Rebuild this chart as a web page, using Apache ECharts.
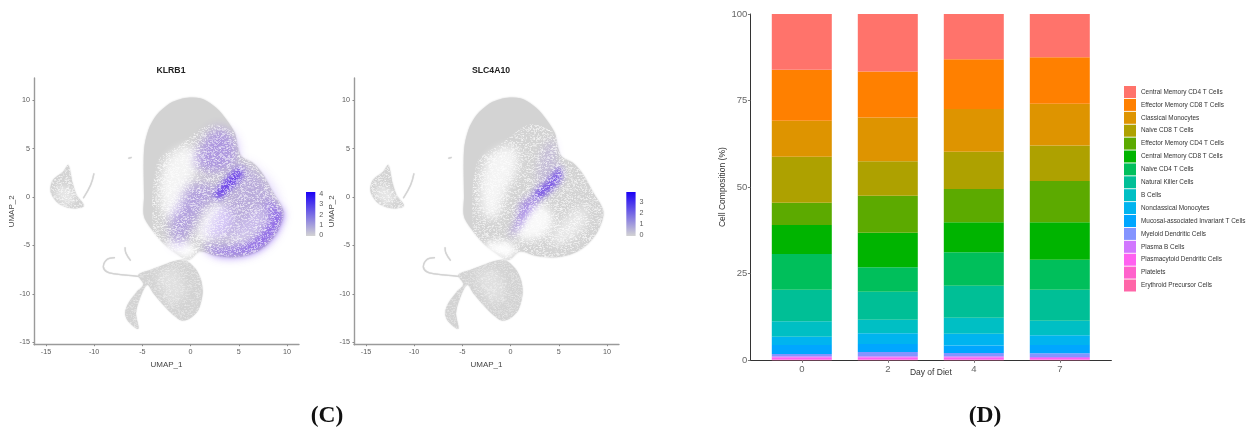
<!DOCTYPE html>
<html><head><meta charset="utf-8">
<style>html,body{margin:0;padding:0;background:#fff}#c{width:1250px;height:432px}</style>
<script src="https://cdn.jsdelivr.net/npm/echarts@6/dist/echarts.min.js"></script>
</head><body><div id="c"></div>
<script>
// ---- Stacked composition chart data
const days = ['0','2','4','7'];
const cellTypes = ['Central Memory CD4 T Cells','Effector Memory CD8 T Cells','Classical Monocytes','Naive CD8 T Cells','Effector Memory CD4 T Cells','Central Memory CD8 T Cells','Naive CD4 T Cells','Natural Killer Cells','B Cells','Nonclassical Monocytes','Mucosal-associated Invariant T Cells','Myeloid Dendritic Cells','Plasma B Cells','Plasmacytoid Dendritic Cells','Platelets','Erythroid Precursor Cells'];
const cellColors = ['#FF736B','#FF8000','#DE9400','#AEA100','#5CAA00','#00B400','#00BF5B','#00BF96','#00BFC4','#00B4EF','#00A6FF','#8494FF','#D177FF','#FF61F0','#FF61CC','#FF66A8'];
const centralMemoryCD4 = [16.1,16.6,13.1,12.5];
const effectorMemoryCD8 = [14.7,13.3,14.3,13.4];
const classicalMono = [10.4,12.6,12.4,12.1];
const naiveCD8 = [13.3,10.0,10.7,10.2];
const effectorMemoryCD4 = [6.4,10.7,9.6,11.9];
const centralMemoryCD8 = [8.4,9.9,8.7,10.9];
const naiveCD4 = [10.3,7.1,9.7,8.6];
const naturalKiller = [9.1,8.1,9.2,9.0];
const bCells = [4.5,3.9,4.6,4.2];
const nonclassicalMono = [2.4,3.1,3.4,2.8];
const mait = [2.6,2.3,2.2,2.4];
const myeloidDC = [0.6,1.2,0.9,1.05];
const plasmaB = [0.3,0.3,0.3,0.25];
const plasmacytoidDC = [0.65,0.65,0.65,0.5];
const platelets = [0.15,0.15,0.15,0.12];
const erythroid = [0.1,0.1,0.1,0.08];
const composition = [centralMemoryCD4,effectorMemoryCD8,classicalMono,naiveCD8,effectorMemoryCD4,centralMemoryCD8,naiveCD4,naturalKiller,bCells,nonclassicalMono,mait,myeloidDC,plasmaB,plasmacytoidDC,platelets,erythroid];
const umapTicks = [-15,-10,-5,0,5,10];
const barTicks = [0,25,50,75,100];

// ---- UMAP outlines (UMAP_1, UMAP_2)
const mainBlob = [[-0.06,10.28],[1.32,10.1],[2.7,9.17],[3.74,7.97],[4.6,6.59],[4.85,5.39],[5.3,4.18],[6.51,3.49],[7.55,2.29],[8.41,0.74],[9.62,-1.5],[9.1,-3.4],[7.89,-4.95],[6.51,-5.8],[4.78,-6.22],[2.7,-6.08],[0.98,-5.63],[-0.24,-6.5],[-1.8,-5.63],[-2.83,-4.77],[-3.87,-3.56],[-4.83,-2.01],[-4.83,0.05],[-4.83,4.87],[-4.38,6.94],[-3.52,8.48],[-2.14,9.69],[-1.1,10.1]];
const lowerBlob = [[-0.58,-6.49],[0.46,-7.35],[1.08,-8.56],[1.25,-9.94],[0.8,-11.66],[-0.06,-12.52],[-0.93,-12.76],[-1.79,-12.18],[-2.83,-11.14],[-3.87,-9.93],[-4.5,-9.07],[-5.25,-10.46],[-5.66,-12.0],[-5.42,-13.62],[-6.46,-12.86],[-6.8,-12.0],[-6.46,-10.97],[-5.6,-9.8],[-4.9,-9.0],[-5.42,-8.04],[-4.2,-7.53],[-2.83,-7.01],[-1.62,-6.6]];
const island = [[-12.68,3.32],[-12.23,1.42],[-11.82,0.22],[-11.06,-0.92],[-12.34,-1.16],[-13.72,-0.64],[-14.52,0.56],[-14.31,1.7],[-13.2,2.63]];
const wingLine = [[-10.02,2.46],[-10.37,1.25],[-11.13,-0.12]];
const arcLine = [[-7.84,-6.25],[-8.64,-6.43],[-9.05,-7.18],[-8.71,-7.7],[-7.84,-7.94],[-6.46,-8.08],[-5.25,-8.22]];
const hookLine = [[-6.8,-5.19],[-6.7,-5.81],[-6.22,-6.56]];
const specLine = [[-6.46,4.0],[-6.11,4.11]];
const grainZone = [[-3.5,3.5],[-1,5.5],[2,7.5],[4.6,6.6],[4.85,5.39],[5.3,4.18],[6.51,3.49],[7.55,2.29],[8.41,0.74],[9.62,-1.5],[9.1,-3.4],[7.89,-4.95],[6.51,-5.8],[4.78,-6.22],[2.7,-6.08],[0.98,-5.63],[-0.24,-6.5],[-1.8,-5.63],[-2.83,-4.77],[-3.87,-3.56]];
const paleA = [[-2.31,4.18],[-0.75,5.21],[0.63,4.87],[0.63,2.8],[-0.41,0.74],[-1.44,-2.02],[-2.66,-2.02],[-3.17,0.74],[-2.83,2.8]];
const paleB = [[1.67,-1.33],[3.05,-0.65],[4.43,-2.02],[3.74,-3.74],[2.0,-4.43],[0.63,-4.08]];
const paleC = [[-2.83,-4.94],[-0.41,-4.6],[0.63,-5.46],[-0.41,-6.33],[-1.79,-5.8]];
const paleD = [[5.13,-2.7],[7.55,-0.98],[7.89,-2.7],[6.16,-4.43],[4.09,-4.77]];
const paleE = [[-14,0.6],[-13,1.2],[-12,-0.2],[-13,-0.8]];
const paleF = [[-3.5,-8],[-1.5,-7.5],[-0.5,-10],[-2,-11]];
const klrbUpper = [[0.98,5.21],[2.7,7.11],[4.26,6.42],[4.85,4.87],[4.43,3.15],[2.36,2.46],[0.63,3.32]];
const klrbCore = [[2.36,0.05],[3.22,1.43],[4.43,2.63],[5.3,3.08],[5.19,1.94],[4.09,0.74],[3.05,-0.19]];
const klrbMiddle = [[-2.14,-2.71],[-1.1,-0.64],[-0.06,1.08],[2.36,1.43],[2.36,-0.3],[0.98,-1.67],[-0.06,-3.74],[-1.44,-5.11]];
const klrbCrescent = [[9.62,-1.5],[9.1,-3.4],[7.89,-4.95],[6.51,-5.8],[4.78,-6.22],[2.7,-6.08],[1.32,-5.11],[3.74,-5.11],[5.99,-4.6],[7.55,-3.4],[8.24,-2.02],[7.89,-0.3]];
const klrbRight = [[5.3,3.49],[7.55,2.11],[8.93,-0.3],[7.89,-3.4],[4.43,-4.43],[1.67,-4.08],[3.05,-0.99],[4.43,0.74]];
const klrbEdge = [[9.45,-1.68],[8.76,-3.57],[7.2,-5.12],[5.13,-5.8],[6.51,-4.77],[8.24,-3.05],[8.76,-1.68]];
const slcCore = [[2.36,0.39],[3.74,1.6],[5.12,3.15],[5.3,1.94],[4.09,0.57],[2.7,-0.3]];
const slcTail = [[0.63,-2.36],[0.98,-0.81],[2.01,0.05],[2.88,-0.3],[1.67,-2.02],[0.98,-3.05],[-0.06,-4.08]];
const slcUpper = [[3.39,4.87],[4.43,5.9],[4.78,3.49],[3.74,1.77],[2.7,1.43]];

const GRAY='#D3D3D3', PUR='#7B48F0';
const baseLayers = [{p:mainBlob,f:GRAY,o:1,b:2},{p:lowerBlob,f:GRAY,o:1,b:1.5},{p:island,f:GRAY,o:1,b:1.5}];
const paleLayers = [{p:paleA,f:'#fff',o:.75,b:10},{p:paleB,f:'#fff',o:.85,b:9},{p:paleC,f:'#fff',o:.95,b:7},{p:paleD,f:'#fff',o:.5,b:9},{p:paleE,f:'#fff',o:.45,b:6},{p:paleF,f:'#fff',o:.3,b:8}];
const klrbLayers = paleLayers.concat([
  {p:klrbRight,f:PUR,o:.28,b:12},{p:klrbMiddle,f:PUR,o:.36,b:11},{p:klrbUpper,f:PUR,o:.42,b:11},
  {p:klrbCrescent,f:PUR,o:.62,b:9},{p:klrbEdge,f:PUR,o:.35,b:6},{p:klrbCore,f:'#5A28EE',o:.85,b:6}
]);
const slcLayers = paleLayers.concat([
  {p:slcUpper,f:PUR,o:.16,b:9},{p:slcTail,f:PUR,o:.5,b:7},{p:slcCore,f:'#5A28EE',o:.75,b:6}
]);
const strokes = [wingLine,arcLine,hookLine,specLine];

// Fine grain so the dense clouds read as blurred dots rather than flat fills (a fill style only).
function grainTile(alpha){
  const n=131, c=document.createElement('canvas'); c.width=c.height=n;
  const g=c.getContext('2d'); let s=12345;
  for(let y=0;y<n;y++)for(let x=0;x<n;x++){
    s=(s*1103515245+12345)&0x7fffffff;
    const t=(s>>>16)%100;
    if(t<45){g.fillStyle='rgba(255,255,255,'+(alpha*(t%5+1)/5)+')';g.fillRect(x,y,1+(t%3===0?1:0),1);}
  }
  return c;
}
const tile = grainTile(0.55), tileSoft = grainTile(0.3);
const OFF = 3000;

function blobSeries(layers, idx){
  return {type:'custom',xAxisIndex:idx,yAxisIndex:idx,data:[0],silent:true,clip:false,
    renderItem:function(params,api){
      const pts=p=>p.map(q=>api.coord(q));
      const children = baseLayers.map(l=>({type:'polygon',shape:{points:pts(l.p),smooth:.3},
        style:{fill:l.f,shadowBlur:l.b,shadowColor:l.f}}));
      strokes.forEach(s=>children.push({type:'polyline',shape:{points:pts(s),smooth:.4},
        style:{fill:null,stroke:GRAY,lineWidth:1.3,shadowBlur:1,shadowColor:GRAY}}));
      // soft layers: only the blurred shadow of an off-screen polygon lands on the plot
      layers.forEach(l=>children.push({type:'polygon',
        shape:{points:pts(l.p).map(a=>[a[0]-OFF,a[1]]),smooth:.3},
        style:{fill:l.f,opacity:l.o,shadowBlur:l.b,shadowColor:l.f,shadowOffsetX:OFF}}));
      children.push({type:'polygon',shape:{points:pts(grainZone),smooth:.3},style:{fill:{image:tile,repeat:'repeat'}}});
      children.push({type:'polygon',shape:{points:pts(lowerBlob),smooth:.3},style:{fill:{image:tileSoft,repeat:'repeat'}}});
      children.push({type:'polygon',shape:{points:pts(island),smooth:.3},style:{fill:{image:tile,repeat:'repeat'}}});
      return {type:'group',children};
    }};
}
function colorbarSeries(idx,top){
  return {type:'custom',xAxisIndex:idx,yAxisIndex:idx,data:[0],silent:true,
    renderItem:function(params,api){
      const a=api.coord([0,top]), b=api.coord([1,0]);
      return {type:'rect',shape:{x:a[0],y:a[1],width:b[0]-a[0],height:b[1]-a[1]+1},
        style:{fill:new echarts.graphic.LinearGradient(0,0,0,1,[{offset:0,color:'#1A00F5'},{offset:1,color:GRAY}])}};
    }};
}
const tickCol='#5a5a5a', fam='"Liberation Sans",Arial,sans-serif';
function umapX(gi){return {type:'value',gridIndex:gi,min:-16.24,max:11.24,name:'UMAP_1',nameLocation:'middle',nameGap:10,
  nameTextStyle:{fontSize:8,color:'#444',fontFamily:fam},splitLine:{show:false},
  axisLine:{show:true,onZero:false,lineStyle:{color:'#9a9a9a',width:1.4}},
  axisTick:{show:true,length:1.5,lineStyle:{color:'#888'},customValues:umapTicks},
  axisLabel:{fontSize:7.2,color:tickCol,fontFamily:fam,margin:4,customValues:umapTicks}};}
function umapY(gi){return {type:'value',gridIndex:gi,min:-15.25,max:12.3,name:'UMAP_2',nameLocation:'middle',nameGap:15.5,
  nameTextStyle:{fontSize:8,color:'#444',fontFamily:fam},splitLine:{show:false},
  axisLine:{show:true,onZero:false,lineStyle:{color:'#9a9a9a',width:1.4}},
  axisTick:{show:true,length:1.5,lineStyle:{color:'#888'},customValues:umapTicks},
  axisLabel:{fontSize:7.2,color:tickCol,fontFamily:fam,margin:4,customValues:umapTicks}};}
function cbX(gi){return {type:'value',gridIndex:gi,min:0,max:1,show:false};}
function cbY(gi,top,vals){return {type:'value',gridIndex:gi,min:0,max:top,position:'right',splitLine:{show:false},
  axisLine:{show:false},axisTick:{show:false,customValues:vals},
  axisLabel:{fontSize:7.2,color:tickCol,fontFamily:fam,margin:4,customValues:vals,formatter:v=>String(Math.round(v))}};}

const barSeries = composition.map((vals,i)=>({
  name:cellTypes[i],type:'bar',stack:'all',xAxisIndex:5,yAxisIndex:5,barWidth:60,
  itemStyle:{color:cellColors[i]},silent:true,data:vals
})).reverse();

const serifR={fontSize:23.5,fontFamily:'"Liberation Serif",serif',color:'#111'};
const serifB={fontSize:23.5,fontWeight:'bold',fontFamily:'"Liberation Serif",serif',color:'#111'};
const chart = echarts.init(document.getElementById('c'),null,{renderer:'canvas'});
chart.setOption({
  animation:false,backgroundColor:'#fff',
  textStyle:{fontFamily:fam},
  title:[
    {text:'KLRB1',left:166,top:61,textAlign:'center',textStyle:{fontSize:8.7,fontWeight:'bold',color:'#222',fontFamily:fam}},
    {text:'SLC4A10',left:486,top:61,textAlign:'center',textStyle:{fontSize:8.7,fontWeight:'bold',color:'#222',fontFamily:fam}},
    {text:'{r|(}{b|C}{r|)}',left:322,top:399,textAlign:'center',textStyle:{rich:{r:serifR,b:serifB}}},
    {text:'{r|(}{b|D}{r|)}',left:980,top:399,textAlign:'center',textStyle:{rich:{r:serifR,b:serifB}}}
  ],
  grid:[
    {left:34,top:78,width:265,height:266.7},
    {left:354,top:78,width:265,height:266.7},
    {left:306,top:192,width:9.3,height:43},
    {left:626.3,top:192,width:9.3,height:43},
    {left:750.4,top:14,width:361,height:346.3},
    {left:758.8,top:14,width:344,height:346.3}
  ],
  xAxis:[umapX(0),umapX(1),cbX(2),cbX(3),
    {type:'value',gridIndex:4,min:0,max:1,name:'Day of Diet',nameLocation:'middle',nameGap:8,
     nameTextStyle:{fontSize:8.5,color:'#333',fontFamily:fam},splitLine:{show:false},
     axisLine:{show:true,onZero:false,lineStyle:{color:'#333',width:1}},axisTick:{show:false},axisLabel:{show:false}},
    {type:'category',gridIndex:5,data:days,axisLine:{show:false},
     axisTick:{show:true,length:2.5,alignWithLabel:true,lineStyle:{color:'#777'}},
     axisLabel:{fontSize:9.5,color:'#666',fontFamily:fam,margin:4}}],
  yAxis:[umapY(0),umapY(1),cbY(2,4.2,[0,1,2,3,4]),cbY(3,3.9,[0,1,2,3]),
    {type:'value',gridIndex:4,min:0,max:100,interval:25,name:'Cell Composition (%)',nameLocation:'middle',nameGap:21,
     nameTextStyle:{fontSize:8.5,color:'#333',fontFamily:fam},splitLine:{show:false},
     axisLine:{show:true,onZero:false,lineStyle:{color:'#333',width:1}},
     axisTick:{show:true,length:2.5,lineStyle:{color:'#777'}},
     axisLabel:{fontSize:9.5,color:'#666',fontFamily:fam,margin:3,customValues:barTicks}},
    {type:'value',gridIndex:5,min:0,max:100,interval:25,show:false}],
  legend:{orient:'vertical',left:1124,top:86,itemWidth:12,itemHeight:12,itemGap:0.9,selectedMode:false,icon:'rect',
    data:cellTypes,padding:0,textStyle:{fontSize:6.4,color:'#333',fontFamily:fam}},
  series:[blobSeries(klrbLayers,0),blobSeries(slcLayers,1),colorbarSeries(2,4.2),colorbarSeries(3,3.9)].concat(barSeries)
});
</script></body></html>
